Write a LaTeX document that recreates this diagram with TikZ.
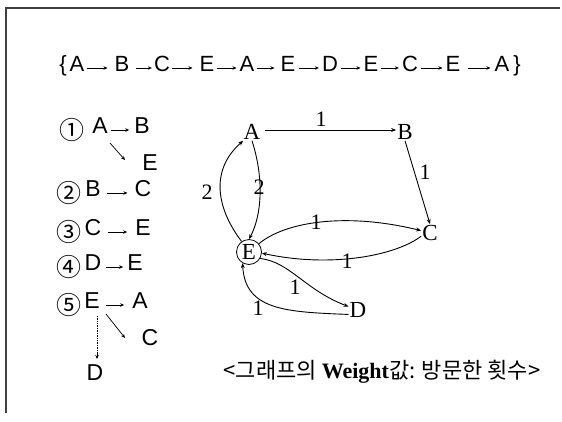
\documentclass[tikz,border=0pt]{standalone}
\usepackage{fontspec}
\setmainfont{Liberation Serif}
\newfontfamily\krfont{Noto Sans CJK KR}
\newfontfamily\latsans{Liberation Sans}
\usetikzlibrary{arrows.meta}
\begin{document}
\begin{tikzpicture}[x=1pt,y=-1pt,
  seq/.style={font=\latsans\fontsize{22}{26}\selectfont, inner sep=0pt, text height=0.72em, text depth=0pt},
  lst/.style={font=\latsans\fontsize{23}{27}\selectfont, inner sep=0pt, text height=0.72em, text depth=0pt},
  num/.style={font=\krfont\fontsize{25}{28}\selectfont, inner sep=0pt},
  sarr/.style={line width=0.7pt, -{Stealth[length=4pt,width=3.5pt]}},
  gnode/.style={font=\fontsize{23}{27}\selectfont, inner sep=1pt},
  wlab/.style={font=\fontsize{22}{24}\selectfont, inner sep=0pt},
  gedge/.style={line width=0.9pt, -{Stealth[length=5pt,width=4pt]}},
  frameline/.style={line width=1.1pt, draw=black!75}
]
\useasboundingbox (0,0) rectangle (562,421);
\draw[frameline] (560,8) -- (6,8) -- (6,413);

% visiting sequence
\node[seq] (lb) at (63,68) {\{};
\foreach \n/\x/\t in {1/77/A,2/122/B,3/162/C,4/207/E,5/247/A,6/288/E,7/330/D,8/371/E,9/410/C,10/453/E,11/502/A}
  \node[seq] (s\n) at (\x,68) {\t};
\node[seq] (rb) at (517,68) {\}};
\foreach \a/\b/\p/\q in {1/2/2/7,2/3/6/2,3/4/2/7,4/5/2/3,5/6/2/6,6/7/3/3,7/8/3/3,8/9/2/3,9/10/3/3,10/11/7/4}
  \draw[sarr, shorten <=\p pt, shorten >=\q pt] (s\a.east) -- (s\b.west);

% step list
\node[num] (c1) at (72,130) {①};
\node[lst] (l1a) at (100,130) {A};
\node[lst] (l1b) at (142,130) {B};
\node[lst] (l1e) at (150,167) {E};
\draw[sarr, shorten <=3pt, shorten >=5pt] (l1a.east) -- (l1b.west);
\draw[sarr] (110,143) coordinate (d1s) -- (125,160) coordinate (d1e);

\node[num] (c2) at (69,193) {②};
\node[lst] (l2a) at (93,193) {B};
\node[lst] (l2b) at (143,193) {C};
\draw[sarr, shorten <=6pt, shorten >=7pt] (l2a.east) -- (l2b.west);

\node[num] (c3) at (69,232) {③};
\node[lst] (l3a) at (93,232) {C};
\node[lst] (l3b) at (143,232) {E};
\draw[sarr, shorten <=6pt, shorten >=8pt] (l3a.east) -- (l3b.west);

\node[num] (c4) at (69,267) {④};
\node[lst] (l4a) at (93,267) {D};
\node[lst] (l4b) at (135,267) {E};
\draw[sarr, shorten <=4pt, shorten >=4pt] (l4a.east) -- (l4b.west);

\node[num] (c5) at (69,305) {⑤};
\node[lst] (l5a) at (92,305) {E};
\node[lst] (l5b) at (140,305) {A};
\node[lst] (l5c) at (150,342) {C};
\node[lst] (l5d) at (95,377) {D};
\draw[sarr, shorten <=6pt, shorten >=8pt] (l5a.east) -- (l5b.west);
\draw[sarr] (106,314) coordinate (d5s) -- (125,338) coordinate (d5e);
\draw[line width=0.7pt, densely dotted] (97,316) coordinate (d5t) -- (97,352) coordinate (d5m);
\draw[sarr] (d5m) -- (97,359) coordinate (d5e2);

% weighted graph
\node[gnode] (gA) at (252,132) {A};
\node[gnode] (gB) at (405,132) {B};
\node[gnode] (gC) at (430,233) {C};
\node[gnode, circle, draw, line width=0.8pt, minimum size=25pt, inner sep=0pt] (gE) at (249,252) {E};
\node[gnode] (gD) at (358,310) {D};

\draw[gedge] (gA.east) ++(3,-2) coordinate (ab) -- (gB.west |- ab);
\node[wlab] (wab) at (321,119) {1};
\draw[gedge] (gB.south) -- (gC.north);
\node[wlab] (wbc) at (425,172) {1};
\draw[gedge] (gA.south) .. controls (264,178) and (262,215) .. (gE.north);
\node[wlab] (wae) at (259,187) {2};
\draw[gedge] (gE.125) .. controls (214,205) and (212,168) .. (gA.225);
\node[wlab] (wea) at (207,192) {2};
\draw[gedge] (gE.40) .. controls (285,222) and (345,212) .. (gC.165);
\node[wlab] (wec) at (316,222) {1};
\draw[gedge] (gC.200) .. controls (395,256) and (330,268) .. (gE.-5);
\node[wlab] (wce) at (347,261) {1};
\draw[gedge] (gE.-30) .. controls (290,262) and (305,290) .. (gD.160);
\node[wlab] (wed) at (295,287) {1};
\draw[gedge] (gD.205) .. controls (285,312) and (245,310) .. (gE.-120);
\node[wlab] (wde) at (258,308) {1};

\node[inner sep=0pt, font=\fontsize{22}{26}\selectfont] (cap) at (382,372)
  {{\krfont <그래프의 }{\bfseries Weight}{\krfont 값: 방문한 횟수>}};
\end{tikzpicture}
\end{document}
